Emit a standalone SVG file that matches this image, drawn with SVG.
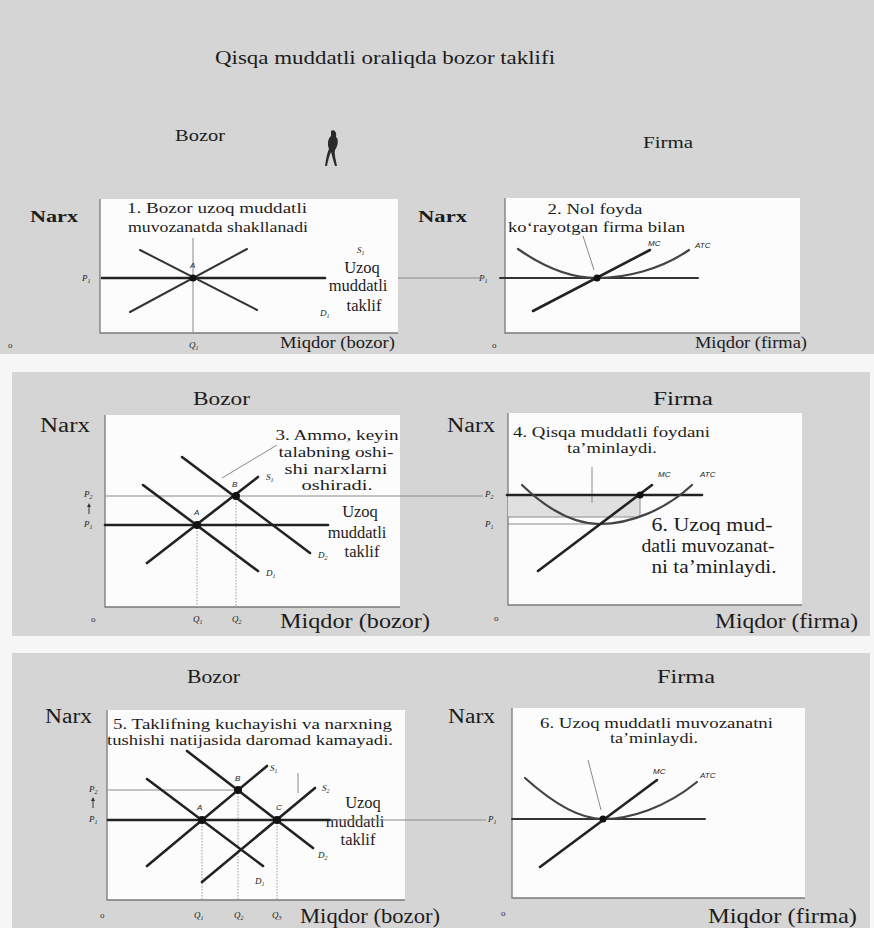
<svg xmlns="http://www.w3.org/2000/svg" width="874" height="928" viewBox="0 0 874 928">
<defs>
<style>
text{font-family:"Liberation Serif","Times New Roman",serif;fill:#1c1c1c}
.bg{fill:#d5d5d5}
.plot{fill:#fcfcfc}
.axis{stroke:#7a7a7a;stroke-width:1.3;fill:none}
.thick{stroke:#222;stroke-width:2.6;fill:none;stroke-linecap:round}
.med{stroke:#333;stroke-width:2;fill:none;stroke-linecap:round}
.curve{stroke:#444;stroke-width:2.2;fill:none;stroke-linecap:round}
.thin{stroke:#8a8a8a;stroke-width:1;fill:none}
.dot{stroke:#9a9a9a;stroke-width:1;stroke-dasharray:1.5 1.5;fill:none}
.pt{fill:#111}
.h{font-size:19px}
.h1{font-size:17px}
.narx{font-size:20px}
.ann{font-size:15px}
.big{font-size:19px}
.lt{font-size:16.5px}
.mq{font-size:22px}
.sm{font-size:9px;font-style:italic}
.o{font-size:9px;fill:#333}
.tiny{font-size:8px;font-family:"Liberation Sans",Arial,sans-serif;font-style:italic}
.sub{font-size:6px}
</style>
<marker id="up" viewBox="0 0 6 6" refX="3" refY="3" markerWidth="4" markerHeight="4" orient="auto">
<path d="M0,0 L6,3 L0,6 Z" fill="#333"/>
</marker>
</defs>

<rect width="874" height="928" fill="#f6f6f6"/>
<rect class="bg" x="0" y="0" width="874" height="354"/>
<rect class="bg" x="12" y="372" width="858" height="264"/>
<rect class="bg" x="12" y="653" width="858" height="275"/>

<text x="215" y="64" font-size="19" textLength="340" lengthAdjust="spacingAndGlyphs">Qisqa muddatli oraliqda bozor taklifi</text>
<path d="M331,131 C334,129 337,132 336,137 C339,139 338,146 335,150 C334,154 336,160 337,166 L335,166 C333,160 332,155 331,152 C329,156 328,161 327,166 L325,166 C326,159 327,153 329,149 C327,144 328,138 331,136 Z" fill="#2a2a2a"/>

<!-- Row 1 -->
<g id="bozor-1">
<text class="h1" x="175" y="141" textLength="50" lengthAdjust="spacingAndGlyphs">Bozor</text>
<text class="h1" x="30" y="222" textLength="48" lengthAdjust="spacingAndGlyphs" font-weight="bold">Narx</text>
<rect class="plot" x="100" y="199" width="298" height="134"/>
<path class="axis" d="M100,199 V333 H398"/>
<text class="ann" x="127" y="213" textLength="180" lengthAdjust="spacingAndGlyphs">1. Bozor uzoq muddatli</text>
<text class="ann" x="128" y="232" textLength="180" lengthAdjust="spacingAndGlyphs">muvozanatda shakllanadi</text>
<line class="thin" x1="193" y1="238" x2="193" y2="333"/>
<line class="thick" x1="102" y1="278" x2="325" y2="278"/>
<line class="med" x1="140" y1="250" x2="257" y2="310"/>
<line class="med" x1="130" y1="312" x2="247" y2="249"/>
<circle class="pt" cx="193" cy="278" r="3.5"/>
<text class="tiny" x="190" y="268" font-size="6">A</text>
<text class="sm" x="82" y="281">P<tspan class="sub" dy="2">1</tspan></text>
<text class="sm" x="357" y="253" font-size="7">S<tspan class="sub" dy="2">1</tspan></text>
<text class="sm" x="320" y="316" font-size="7">D<tspan class="sub" dy="2">1</tspan></text>
<text class="lt" x="362" y="273" text-anchor="middle">Uzoq</text>
<text class="lt" x="358" y="291" text-anchor="middle">muddatli</text>
<text class="lt" x="364" y="311" text-anchor="middle">taklif</text>
<text class="o" x="8" y="348">o</text>
<text class="sm" x="189" y="348">Q<tspan class="sub" dy="2">1</tspan></text>
<text x="280" y="348" font-size="16" textLength="115" lengthAdjust="spacingAndGlyphs">Miqdor (bozor)</text>
</g>

<g id="firma-1">
<text class="h1" x="643" y="148" textLength="50" lengthAdjust="spacingAndGlyphs">Firma</text>
<text class="h1" x="418" y="222" textLength="49" lengthAdjust="spacingAndGlyphs" font-weight="bold">Narx</text>
<rect class="plot" x="505" y="198" width="295" height="135"/>
<path class="axis" d="M505,198 V333 H800"/>
<text class="ann" x="595" y="214" text-anchor="middle" textLength="95" lengthAdjust="spacingAndGlyphs">2. Nol foyda</text>
<text class="ann" x="508" y="232" textLength="177" lengthAdjust="spacingAndGlyphs">ko‘rayotgan firma bilan</text>
<line class="thin" x1="583" y1="236" x2="594" y2="270"/>
<line class="med" x1="500" y1="278" x2="698" y2="278" stroke-width="1.6"/>
<path class="curve" d="M518,249 C545,268 570,278 597,278 C625,278 660,270 689,250"/>
<line class="thick" x1="533" y1="311" x2="650" y2="250"/>
<circle class="pt" cx="597" cy="278" r="3.5"/>
<text class="tiny" x="648" y="246" font-size="7">MC</text>
<text class="tiny" x="695" y="248" font-size="7">ATC</text>
<text class="sm" x="479" y="281" font-size="7">P<tspan class="sub" dy="2">1</tspan></text>
<text class="o" x="492" y="348">o</text>
<text x="695" y="348" font-size="16" textLength="112" lengthAdjust="spacingAndGlyphs">Miqdor (firma)</text>
</g>

<!-- Row 2 -->
<g id="bozor-2">
<text class="h" x="193" y="405" textLength="57" lengthAdjust="spacingAndGlyphs">Bozor</text>
<text class="narx" x="40" y="432" textLength="50" lengthAdjust="spacingAndGlyphs">Narx</text>
<rect class="plot" x="105" y="415" width="295" height="192"/>
<path class="axis" d="M105,415 V607 H400"/>
<text class="ann" x="337" y="440" text-anchor="middle" font-size="16" textLength="123" lengthAdjust="spacingAndGlyphs">3. Ammo, keyin</text>
<text class="ann" x="336" y="457" text-anchor="middle" font-size="16" textLength="115" lengthAdjust="spacingAndGlyphs">talabning oshi-</text>
<text class="ann" x="336" y="474" text-anchor="middle" font-size="16" textLength="103" lengthAdjust="spacingAndGlyphs">shi narxlarni</text>
<text class="ann" x="337" y="490" text-anchor="middle" font-size="16" textLength="71" lengthAdjust="spacingAndGlyphs">oshiradi.</text>
<line class="thin" x1="277" y1="445" x2="222" y2="478"/>
<line class="thin" x1="105" y1="496" x2="400" y2="496"/>
<line class="dot" x1="197" y1="525" x2="197" y2="607"/>
<line class="dot" x1="236" y1="496" x2="236" y2="607"/>
<line class="thick" x1="105" y1="525" x2="328" y2="525"/>
<line class="thick" x1="182" y1="457" x2="310" y2="553"/>
<line class="thick" x1="147" y1="563" x2="258" y2="477"/>
<line class="thick" x1="143" y1="485" x2="258" y2="571"/>
<circle class="pt" cx="197" cy="525" r="4"/>
<circle class="pt" cx="236" cy="496" r="4"/>
<text class="tiny" x="194" y="515" font-size="9" font-style="normal">A</text>
<text class="tiny" x="232" y="487" font-size="9" font-style="normal">B</text>
<text class="sm" x="266" y="480">S<tspan class="sub" dy="2">1</tspan></text>
<text class="sm" x="318" y="558">D<tspan class="sub" dy="2">2</tspan></text>
<text class="sm" x="266" y="576">D<tspan class="sub" dy="2">1</tspan></text>
<text class="sm" x="84" y="497">P<tspan class="sub" dy="2">2</tspan></text>
<line x1="89" y1="514" x2="89" y2="505" stroke="#333" stroke-width="1" marker-end="url(#up)"/>
<text class="sm" x="84" y="527">P<tspan class="sub" dy="2">1</tspan></text>
<text class="lt" x="360" y="517" text-anchor="middle" font-size="17">Uzoq</text>
<text class="lt" x="357" y="538" text-anchor="middle" font-size="17">muddatli</text>
<text class="lt" x="362" y="557" text-anchor="middle" font-size="17">taklif</text>
<text class="o" x="91" y="622">o</text>
<text class="sm" x="193" y="622">Q<tspan class="sub" dy="2">1</tspan></text>
<text class="sm" x="232" y="622">Q<tspan class="sub" dy="2">2</tspan></text>
<text class="mq" x="280" y="628" textLength="150" lengthAdjust="spacingAndGlyphs">Miqdor (bozor)</text>
</g>

<g id="firma-2">
<text class="h" x="653" y="405" textLength="60" lengthAdjust="spacingAndGlyphs">Firma</text>
<text class="narx" x="447" y="432" textLength="48" lengthAdjust="spacingAndGlyphs">Narx</text>
<rect class="plot" x="508" y="413" width="294" height="192"/>
<path class="axis" d="M508,413 V605 H802"/>
<text class="ann" x="513" y="437" textLength="197" lengthAdjust="spacingAndGlyphs">4. Qisqa muddatli foydani</text>
<text class="ann" x="567" y="453" textLength="90" lengthAdjust="spacingAndGlyphs">ta’minlaydi.</text>
<rect x="508" y="495" width="132" height="22" fill="#e0e0e0"/>
<line class="thin" x1="592" y1="467" x2="592" y2="503"/>
<line class="thin" x1="640" y1="495" x2="640" y2="517"/>
<line class="thin" x1="508" y1="517" x2="640" y2="517" stroke="#b0b0b0"/>
<line class="thin" x1="507" y1="524" x2="603" y2="524" stroke="#a8a8a8"/>
<line class="thick" x1="507" y1="495" x2="702" y2="495" stroke="#3a3a3a"/>
<path class="curve" d="M522,485 C550,512 575,524 600,524 C630,524 665,510 692,485"/>
<line class="thick" x1="538" y1="571" x2="652" y2="485"/>
<circle class="pt" cx="640" cy="495" r="3.5"/>
<text class="tiny" x="658" y="477" font-size="7">MC</text>
<text class="tiny" x="700" y="477" font-size="7">ATC</text>
<text class="sm" x="485" y="497">P<tspan class="sub" dy="2">2</tspan></text>
<text class="sm" x="485" y="527">P<tspan class="sub" dy="2">1</tspan></text>
<text class="big" x="712" y="531" text-anchor="middle" textLength="121" lengthAdjust="spacingAndGlyphs">6. Uzoq mud-</text>
<text class="big" x="708" y="552" text-anchor="middle" textLength="133" lengthAdjust="spacingAndGlyphs">datli muvozanat-</text>
<text class="big" x="714" y="573" text-anchor="middle" textLength="125" lengthAdjust="spacingAndGlyphs">ni ta’minlaydi.</text>
<text class="o" x="494" y="621">o</text>
<text class="mq" x="715" y="628" textLength="143" lengthAdjust="spacingAndGlyphs">Miqdor (firma)</text>
</g>

<!-- Row 3 -->
<g id="bozor-3">
<text class="h" x="187" y="683" textLength="53" lengthAdjust="spacingAndGlyphs">Bozor</text>
<text class="narx" x="45" y="723" textLength="47" lengthAdjust="spacingAndGlyphs">Narx</text>
<rect class="plot" x="107" y="710" width="298" height="190"/>
<path class="axis" d="M107,710 V900 H405"/>
<text class="ann" x="113" y="729" font-size="15.5" textLength="279" lengthAdjust="spacingAndGlyphs">5. Taklifning kuchayishi va narxning</text>
<text class="ann" x="107" y="745" font-size="15.5" textLength="286" lengthAdjust="spacingAndGlyphs">tushishi natijasida daromad kamayadi.</text>
<line class="thin" x1="108" y1="790" x2="238" y2="790"/>
<line class="thin" x1="298" y1="773" x2="298" y2="793"/>
<line class="dot" x1="202" y1="820" x2="202" y2="900"/>
<line class="dot" x1="238" y1="790" x2="238" y2="900"/>
<line class="dot" x1="277" y1="820" x2="277" y2="900"/>
<line class="thick" x1="108" y1="820" x2="330" y2="820"/>
<line class="thick" x1="187" y1="751" x2="313" y2="848"/>
<line class="thick" x1="147" y1="866" x2="267" y2="766"/>
<line class="thick" x1="147" y1="779" x2="263" y2="866"/>
<line class="thick" x1="202" y1="882" x2="315" y2="788"/>
<circle class="pt" cx="202" cy="820" r="4"/>
<circle class="pt" cx="238" cy="790" r="4"/>
<circle class="pt" cx="277" cy="820" r="4"/>
<text class="tiny" x="197" y="810" font-size="9" font-style="normal">A</text>
<text class="tiny" x="235" y="781" font-size="9" font-style="normal">B</text>
<text class="tiny" x="276" y="810" font-size="9" font-style="normal">C</text>
<text class="sm" x="270" y="771">S<tspan class="sub" dy="2">1</tspan></text>
<text class="sm" x="322" y="791">S<tspan class="sub" dy="2">2</tspan></text>
<text class="sm" x="318" y="858">D<tspan class="sub" dy="2">2</tspan></text>
<text class="sm" x="255" y="884">D<tspan class="sub" dy="2">1</tspan></text>
<text class="sm" x="89" y="792">P<tspan class="sub" dy="2">2</tspan></text>
<line x1="93" y1="808" x2="93" y2="799" stroke="#333" stroke-width="1" marker-end="url(#up)"/>
<text class="sm" x="89" y="822">P<tspan class="sub" dy="2">1</tspan></text>
<text class="lt" x="363" y="808" text-anchor="middle">Uzoq</text>
<text class="lt" x="355" y="827" text-anchor="middle">muddatli</text>
<text class="lt" x="358" y="845" text-anchor="middle">taklif</text>
<text class="o" x="100" y="918">o</text>
<text class="sm" x="194" y="918">Q<tspan class="sub" dy="2">1</tspan></text>
<text class="sm" x="234" y="918">Q<tspan class="sub" dy="2">2</tspan></text>
<text class="sm" x="272" y="918">Q<tspan class="sub" dy="2">3</tspan></text>
<text class="mq" x="300" y="923" textLength="140" lengthAdjust="spacingAndGlyphs">Miqdor (bozor)</text>
</g>

<g id="firma-3">
<text class="h" x="657" y="683" textLength="58" lengthAdjust="spacingAndGlyphs">Firma</text>
<text class="narx" x="448" y="723" textLength="47" lengthAdjust="spacingAndGlyphs">Narx</text>
<rect class="plot" x="512" y="708" width="293" height="190"/>
<path class="axis" d="M512,708 V898 H805"/>
<text class="ann" x="540" y="728" textLength="233" lengthAdjust="spacingAndGlyphs">6. Uzoq muddatli muvozanatni</text>
<text class="ann" x="610" y="743" textLength="88" lengthAdjust="spacingAndGlyphs">ta’minlaydi.</text>
<line class="thin" x1="588" y1="760" x2="601" y2="810"/>
<line class="med" x1="512" y1="819" x2="705" y2="819" stroke-width="1.8"/>
<path class="curve" d="M525,778 C555,805 580,819 603,819 C630,819 665,808 697,782"/>
<line class="thick" x1="540" y1="867" x2="657" y2="780"/>
<circle class="pt" cx="603" cy="819" r="3.5"/>
<text class="tiny" x="653" y="774" font-size="7">MC</text>
<text class="tiny" x="700" y="778" font-size="7">ATC</text>
<text class="sm" x="488" y="822">P<tspan class="sub" dy="2">1</tspan></text>
<text class="o" x="501" y="916">o</text>
<text class="mq" x="708" y="923" textLength="149" lengthAdjust="spacingAndGlyphs">Miqdor (firma)</text>
</g>

<g id="connectors">
<line class="thin" x1="398" y1="278" x2="485" y2="278"/>
<line class="thin" x1="400" y1="496" x2="483" y2="496"/>
<line class="thin" x1="330" y1="820" x2="486" y2="820"/>
</g>
</svg>
